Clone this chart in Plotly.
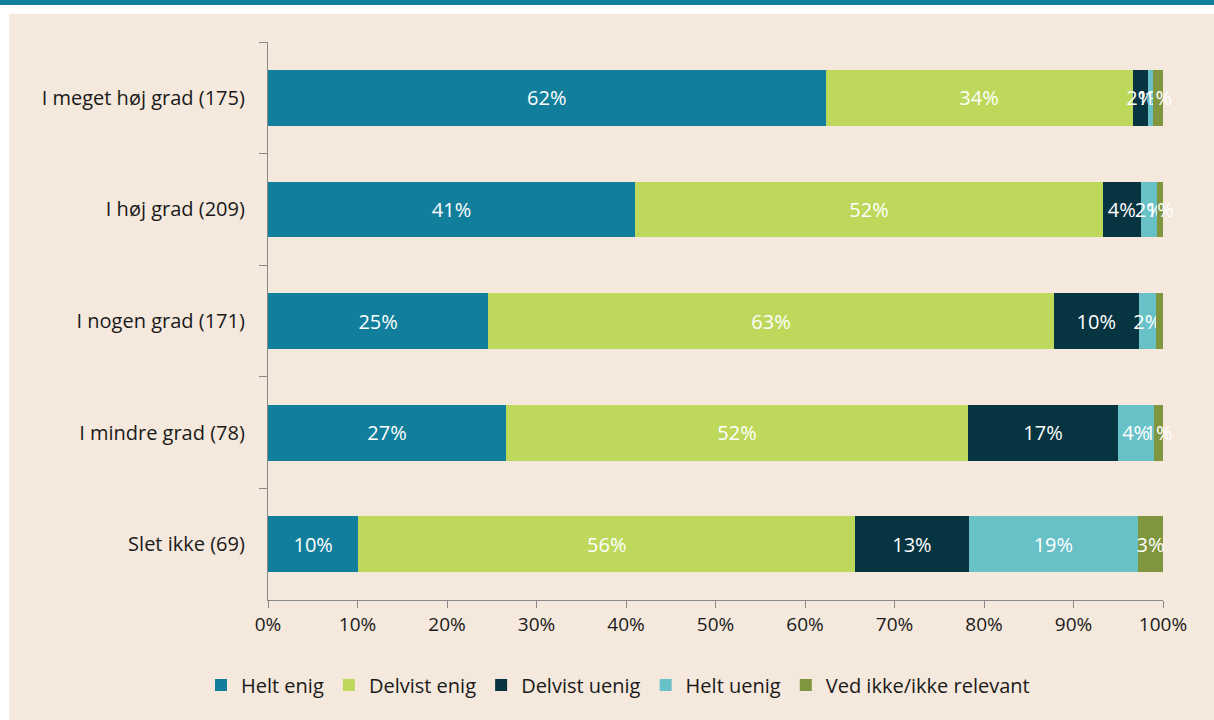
import plotly.graph_objects as go

categories = ["I meget høj grad (175)", "I høj grad (209)", "I nogen grad (171)",
              "I mindre grad (78)", "Slet ikke (69)"]
series_names = ["Helt enig", "Delvist enig", "Delvist uenig", "Helt uenig", "Ved ikke/ikke relevant"]
helt_enig = [62.3, 41.0, 24.6, 26.6, 10.1]
delvist_enig = [34.3, 52.3, 63.2, 51.6, 55.5]
delvist_uenig = [1.7, 4.2, 9.5, 16.8, 12.7]
helt_uenig = [0.6, 1.8, 1.9, 4.0, 18.9]
ved_ikke = [1.1, 0.7, 0.8, 1.0, 2.8]
x_ticks = [0, 10, 20, 30, 40, 50, 60, 70, 80, 90, 100]
x_tick_labels = [f"{v}%" for v in x_ticks]

colors = ["#117E9B", "#BDD85A", "#073441", "#68C1C7", "#80963E"]
series = [helt_enig, delvist_enig, delvist_uenig, helt_uenig, ved_ikke]

FONT = "Open Sans"
TXT = "#1a1a1a"
fig = go.Figure()
for name, vals, col in zip(series_names, series, colors):
    fig.add_trace(go.Bar(
        y=categories, x=vals, name=name, orientation="h",
        marker=dict(color=col, line=dict(width=0)),
        text=[f"{round(v):.0f}%" for v in vals],
        textposition="inside", insidetextanchor="middle",
        constraintext="none", textangle=0,
        insidetextfont=dict(color="white", size=20, family=FONT),
        cliponaxis=False,
    ))

W, H = 1214, 720
L, R, T, B = 268, 51, 42, 120
pw, ph = W - L - R, H - T - B

def px_x(x):
    return (x - L) / pw

def px_y(y):
    return (H - B - y) / ph

shapes = [
    dict(type="rect", xref="paper", yref="paper", x0=px_x(0), x1=px_x(9), y0=px_y(720), y1=px_y(0),
         fillcolor="white", line=dict(width=0), layer="below"),
    dict(type="rect", xref="paper", yref="paper", x0=px_x(0), x1=px_x(W), y0=px_y(14), y1=px_y(0),
         fillcolor="white", line=dict(width=0), layer="below"),
    dict(type="rect", xref="paper", yref="paper", x0=px_x(0), x1=px_x(W), y0=px_y(5), y1=px_y(0),
         fillcolor="#0F7E9B", line=dict(width=0), layer="below"),
]

fig.update_layout(
    width=W, height=H,
    barmode="stack", bargap=0.5,
    margin=dict(l=L, r=R, t=T, b=B, pad=0),
    paper_bgcolor="#F5E8DC", plot_bgcolor="#F5E8DC",
    font=dict(family=FONT, size=20, color=TXT),
    shapes=shapes,
    legend=dict(orientation="h", x=px_x(618), xanchor="center", y=px_y(685), yanchor="middle",
                font=dict(size=20, family=FONT, color=TXT), traceorder="normal",
                itemwidth=30, bgcolor="rgba(0,0,0,0)"),
    xaxis=dict(range=[0, 100], tickvals=x_ticks, ticktext=x_tick_labels,
               showgrid=False, zeroline=False, showline=True, linecolor="#8a8a8a", linewidth=1.3,
               ticks="outside", ticklen=7, tickcolor="#8a8a8a", tickwidth=1.3,
               tickfont=dict(size=19, family=FONT, color=TXT), fixedrange=True),
    yaxis=dict(autorange="reversed", showgrid=False, zeroline=False, showline=True,
               linecolor="#8a8a8a", linewidth=1.3, ticks="outside", ticklen=8,
               tickcolor="#8a8a8a", tickwidth=1.3, tickson="boundaries",
               ticklabelstandoff=18,
               tickfont=dict(size=20, family=FONT, color=TXT), fixedrange=True),
)

fig.write_html("out.html", config={"displayModeBar": False},
               post_script="document.body.style.margin='0';document.body.style.overflow='hidden';")
